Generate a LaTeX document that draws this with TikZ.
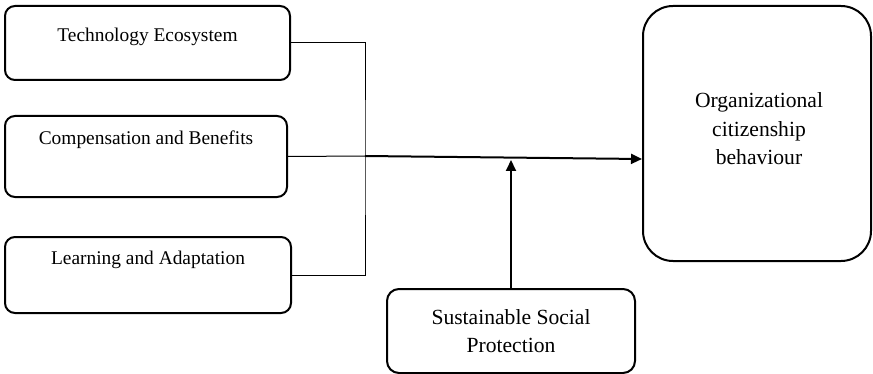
\documentclass[tikz,border=0pt]{standalone}
\usepackage{fontspec}
\setmainfont{Liberation Serif}
\usetikzlibrary{arrows.meta,positioning}

\tikzset{
  box/.style={draw, line width=1pt, rounded corners=5pt, inner sep=0pt},
  lbl/.style={font=\fontsize{9.7}{13.5}\selectfont, align=center, inner sep=0pt},
  biglbl/.style={font=\fontsize{10.8}{14.2}\selectfont, align=center, inner sep=0pt},
  link/.style={line width=0.5pt},
  flow/.style={line width=1pt, -{Triangle[length=5.5pt,width=5pt]}}
}

\begin{document}
\begin{tikzpicture}[x=0.5pt,y=-0.5pt]
    \useasboundingbox (0,0) rectangle (873,374);

    \node[box, minimum width=142.5pt, minimum height=37pt] (tech) at (147.5,43) {};
    \node[box, minimum width=141pt, minimum height=40.5pt] (comp) at (146,156.5) {};
    \node[box, minimum width=143pt, minimum height=38pt] (learn) at (148,275) {};
    \node[lbl] (techtxt) at (147.5,37) {Technology Ecosystem};
    \node[lbl] (comptxt) at (146,140) {Compensation and Benefits};
    \node[lbl] (learntxt) at (148,260) {Learning and Adaptation};

    \node[box, rounded corners=15pt, minimum width=114pt, minimum height=127.5pt] (ocb) at (757,133.5) {};
    \node[biglbl] (ocbtxt) at (759,129) {Organizational\\citizenship\\behaviour};
    \node[box, biglbl, draw, line width=1pt, rounded corners=6pt, minimum width=124pt, minimum height=42pt] (ssp) at (511,331) {Sustainable Social\\Protection};

    \coordinate (jn) at (365,156);
    \coordinate (mid) at (511,160);

    \draw[link] (tech.east) -| (jn) |- (learn.east);
    \draw[link] (comp.east) -- (jn);
    \draw[flow] (jn) -- ([yshift=-12.75pt]ocb.west);
    \draw[flow] (ssp.north) -- (mid);
\end{tikzpicture}
\end{document}
